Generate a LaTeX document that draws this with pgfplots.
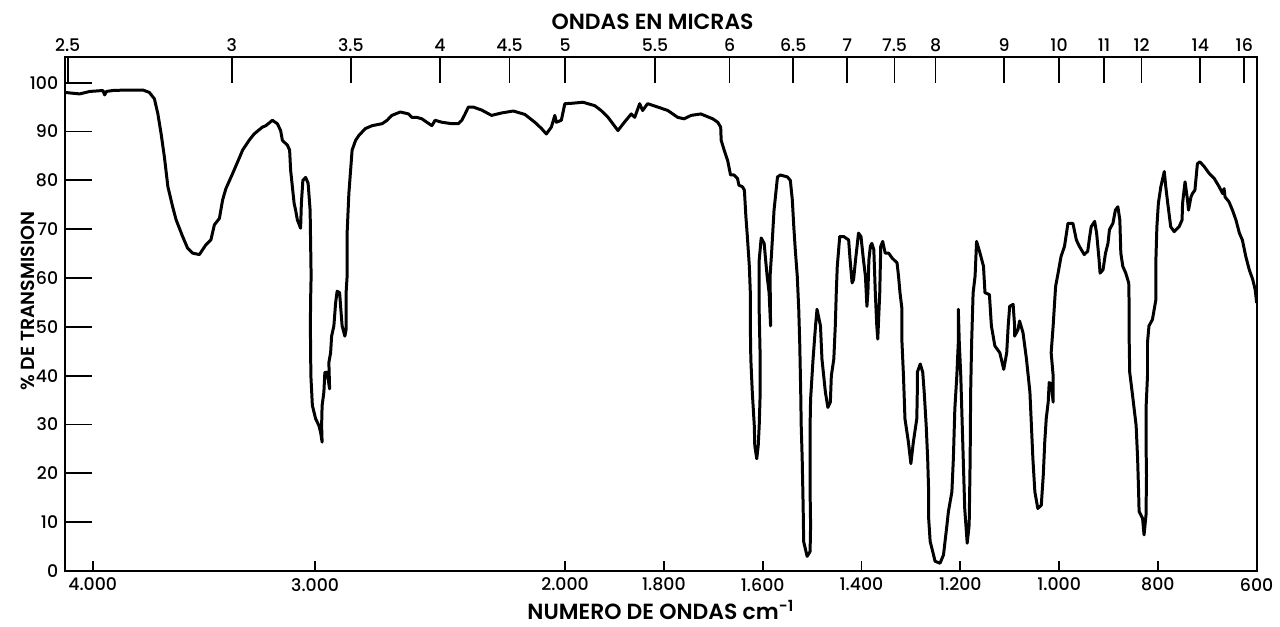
\documentclass[border=0pt]{standalone}
\usepackage{fontspec}
\setmainfont{Poppins Medium}[BoldFont={Poppins SemiBold}]
\usepackage{pgfplots}
\pgfplotsset{compat=1.18}

% wavenumber scale: 4000-2000 compressed to half of 2000-600
\pgfplotsset{
  ir/.style={
    width=597.8pt, height=258pt, scale only axis,
    x coord trafo/.code={\pgfmathparse{##1>2000 ? 2000+0.506*(##1-2000) : ##1}},
    x dir=reverse, xmin=600, xmax=4000, ymin=0, ymax=105.3,
    tick align=inside,
    /pgf/number format/assume math mode=true,
    tick label style={font=\fontsize{8.7}{10}\selectfont},
    label style={font=\bfseries\fontsize{11}{13}\selectfont},
    axis line style={line width=0.9pt},
    tick style={black, line width=0.9pt},
  },
}

\begin{document}
\begin{tikzpicture}
\begin{axis}[ir, name=ax,
  xtick={3890,3000,2000,1800,1600,1400,1200,1000,800,600},
  xticklabels={4.000,3.000,2.000,1.800,1.600,1.400,1.200,1.000,800,600},
  xtick pos=bottom, ytick pos=left,
  xtick style={/pgfplots/major tick length=5pt},
  ytick style={/pgfplots/major tick length=13.5pt},
  ytick={0,10,...,100},
  xlabel={NUMERO DE ONDAS cm\textsuperscript{-1}},
  ylabel={\% DE TRANSMISION},
  xlabel style={at={(axis description cs:0.5,-0.0756)}, anchor=center},
  ylabel style={at={(axis description cs:-0.031,0.525)}, anchor=center,
    font=\bfseries\fontsize{9.5}{11}\selectfont},
]
\addplot[black, line width=1.5pt, line join=round] coordinates {
(4000,98.0) (3981,97.9) (3942,97.7) (3902,98.2) (3849,98.4) (3842,97.5) (3835,98.2)
(3809,98.4) (3756,98.5) (3689,98.5) (3663,98.0) (3643,96.7) (3629,93.6) (3616,89.5)
(3603,84.8) (3589,78.7) (3570,74.6) (3556,71.9) (3530,68.5) (3510,66.1) (3490,65.1)
(3463,64.8) (3437,66.8) (3417,67.8) (3403,70.9) (3383,72.2) (3370,76.0) (3357,78.3)
(3330,81.4) (3304,84.5) (3290,86.2) (3264,88.2) (3244,89.5) (3211,90.9)
(3197,91.2) (3171,92.3) (3151,91.6) (3138,90.2) (3131,88.2) (3111,87.2) (3102,86.2)
(3098,82.1) (3091,78.7) (3084,75.3) (3078,73.9) (3071,71.9) (3058,70.2) (3055,75.3)
(3049,80.0) (3038,80.6) (3028,79.4) (3020,73.9) (3018,67.1) (3016,60.4) (3018,55.6)
(3019,50.2) (3017,40.0) (3011,33.9) (2998,31.2) (2985,29.8) (2978,28.4) (2972,26.4)
(2974,29.8) (2972,33.9) (2965,36.6) (2961,40.7) (2952,40.7) (2942,37.3) (2945,42.7)
(2938,44.7) (2934,48.1) (2925,50.2) (2918,54.9) (2912,57.3) (2902,57.0) (2898,54.2)
(2892,50.2) (2881,48.1) (2876,49.5) (2876,57.0) (2872,60.4) (2872,69.2) (2865,77.3)
(2858,82.1) (2852,86.2) (2838,88.2) (2825,89.2) (2799,90.6) (2772,91.2) (2732,91.6)
(2712,92.3) (2693,93.3) (2659,94.0) (2626,93.6) (2613,92.9) (2593,92.9) (2573,92.6)
(2553,91.9) (2533,91.2) (2520,92.3) (2493,91.9) (2453,91.6) (2427,91.6) (2413,92.3)
(2400,93.6) (2387,95.0)
(2367,95.0) (2334,94.4) (2294,93.3) (2254,93.8) (2207,94.2) (2161,93.5) (2121,91.9)
(2094,90.6) (2075,89.5) (2055,90.9) (2041,93.3) (2035,91.9) (2015,92.3) (2001,95.7)
(1984,95.8) (1964,96.0) (1940,95.3) (1927,94.3) (1913,92.9) (1893,90.2) (1880,91.9)
(1866,93.6) (1859,92.9) (1849,95.7) (1843,94.3) (1833,95.7) (1812,95.0) (1792,94.3)
(1772,92.9) (1759,92.6) (1745,93.3) (1725,93.6) (1718,93.3) (1701,92.6)
(1691,91.9) (1685,90.9) (1684,88.2) (1678,86.2) (1671,84.1) (1665,81.1) (1658,81.1)
(1651,80.4) (1648,79.0) (1641,78.7) (1637,78.0) (1634,72.6) (1631,68.5) (1627,62.4)
(1625,57.0) (1625,50.2) (1624,43.4) (1621,36.6) (1617,29.8) (1616,25.7) (1612,23.0)
(1609,25.7) (1607,29.8) (1605,36.6) (1605,43.4) (1607,52.9) (1607,63.7) (1603,68.2)
(1597,67.1) (1594,63.7) (1591,60.4) (1587,57.0) (1584,50.2) (1585,60.4) (1582,65.1)
(1577,73.9) (1570,80.7) (1564,81.1) (1550,80.7) (1544,80.0) (1540,76.0) (1537,70.5)
(1534,65.8) (1530,60.4) (1527,53.6) (1525,46.8) (1523,36.6) (1522,29.8) (1520,23.0)
(1518,12.8) (1517,6.0) (1510,3.0) (1504,4.0) (1503,9.4) (1504,16.2) (1504,29.8)
(1503,35.2) (1498,43.4) (1493,50.2) (1490,53.6) (1483,50.2) (1480,43.4) (1473,36.6)
(1468,33.5) (1463,34.6) (1461,40.0) (1456,43.4) (1453,50.2) (1451,57.0) (1449,62.4)
(1444,68.5) (1436,68.5) (1426,67.8) (1423,63.7) (1419,59.0) (1416,59.7) (1412,63.7)
(1406,69.2) (1401,68.5) (1396,63.7) (1392,60.4) (1389,54.2) (1387,57.0) (1385,63.7)
(1382,66.5) (1379,67.1) (1375,65.8) (1372,57.0) (1369,50.2) (1367,47.5) (1363,57.0)
(1361,66.5) (1357,67.5) (1352,65.1) (1345,65.1) (1338,64.1) (1328,63.1)
(1325,60.4) (1322,57.0) (1318,53.6) (1318,46.8) (1315,40.0) (1312,31.2) (1305,26.4)
(1300,22.0) (1295,26.4) (1288,31.2) (1287,36.6) (1287,40.7) (1281,42.4) (1276,40.7)
(1273,36.6) (1269,29.8) (1266,23.0) (1264,16.2) (1264,10.8) (1261,6.1) (1251,2.0)
(1241,1.6) (1234,3.3) (1227,9.4) (1224,12.2) (1217,16.2) (1214,23.0) (1211,33.2)
(1207,40.0) (1204,46.8) (1204,53.6) (1202,46.8) (1199,40.0) (1197,33.2) (1194,23.0)
(1191,12.8) (1186,5.7) (1182,9.4) (1180,23.0) (1179,36.6) (1177,46.8) (1174,57.0)
(1170,60.4) (1167,67.5) (1160,65.1) (1153,62.4) (1150,57.0) (1141,56.6) (1137,50.2)
(1130,46.1) (1120,44.7) (1112,41.3) (1106,44.7) (1103,50.2) (1100,54.2) (1093,54.6)
(1090,50.2) (1090,48.1) (1083,49.5) (1080,51.2) (1073,48.8) (1066,43.4) (1059,36.6)
(1056,29.8) (1053,23.0) (1049,16.2) (1043,12.8) (1036,13.5) (1032,19.6) (1029,26.4)
(1026,31.2) (1022,34.6) (1020,38.6) (1016,38.3) (1012,34.6) (1012,40.0) (1016,44.7)
(1012,50.2) (1007,58.3) (1002,61.0) (996,64.4) (989,66.5) (982,71.2) (972,71.2)
(965,67.8)
(959,66.5) (949,64.8) (942,65.5) (938,68.5) (935,70.5) (928,71.6) (924,69.2)
(919,63.7) (917,61.0) (911,61.7) (906,65.1) (901,67.1) (898,69.9) (891,71.2)
(886,73.9) (881,74.6) (877,71.9) (875,65.1) (871,62.4) (865,61.0) (859,59.0)
(858,53.6) (858,46.8) (857,40.7) (852,36.6) (848,33.2) (844,29.8) (841,23.0)
(839,16.2) (838,12.2) (831,10.8) (828,7.4) (824,11.5) (823,19.6) (824,26.4)
(824,33.2) (821,40.0) (821,46.8) (818,50.2) (811,51.5) (804,55.6) (804,63.7)
(802,70.5) (799,75.3) (794,78.7) (787,81.8) (784,78.7) (780,75.3) (774,70.5)
(767,69.5) (757,70.5) (751,71.9) (750,75.3) (745,79.7) (740,76.0) (738,73.9)
(733,76.6) (730,77.3) (725,78.0) (720,83.4) (715,83.8) (706,82.8) (696,81.4)
(686,80.4) (676,78.7) (669,77.3) (666,78.3) (664,76.6) (656,75.6) (649,73.9)
(642,71.9) (635,69.2) (629,67.8) (622,64.4) (615,61.7) (608,59.7) (603,57.6)
(600,54.9)
};
\end{axis}
\begin{axis}[ir,
  axis x line*=top, hide y axis,
  xtick={3990,3333,2857,2500,2222,2000,1818,1667,1538,1429,1333,1250,1111,1000,909,833,714,625},
  xticklabels={2.5,3,3.5,4,4.5,5,5.5,6,6.5,7,7.5,8,9,10,11,12,14,16},
  major tick length=13pt,
  xticklabel style={yshift=-1pt},
  xlabel={ONDAS EN MICRAS},
  xlabel style={at={(axis description cs:0.493,1.068)}, anchor=center},
]
\addplot[draw=none] coordinates {(2000,50)};
\end{axis}
\path ([shift={(-32.7pt,-26.5pt)}]ax.south west) rectangle ([shift={(9.5pt,28.5pt)}]ax.north east);
\end{tikzpicture}
\end{document}
